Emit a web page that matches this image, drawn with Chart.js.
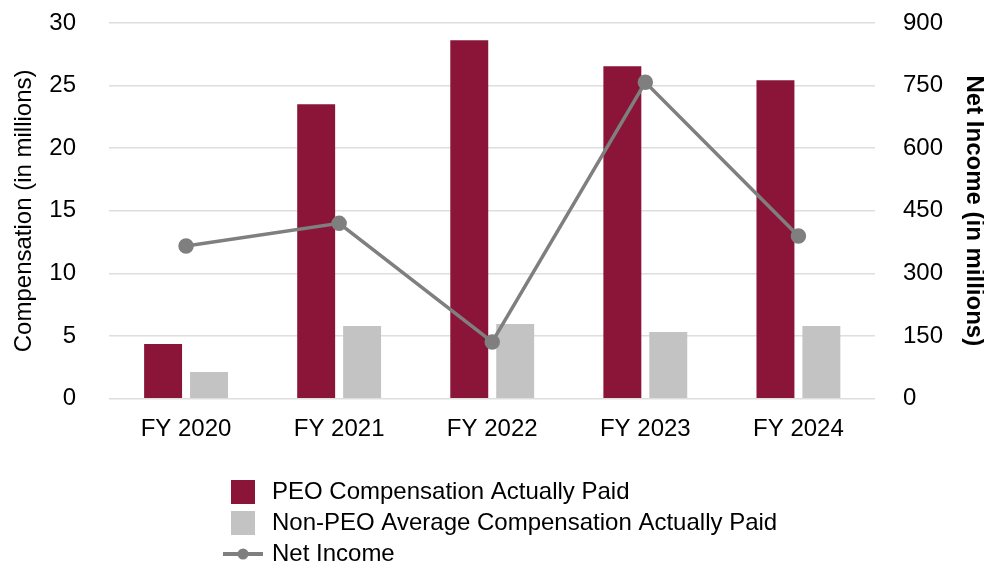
<!DOCTYPE html>
<html>
<head>
<meta charset="utf-8">
<script src="https://cdn.jsdelivr.net/npm/chart.js@4.4.1/dist/chart.umd.min.js"></script>
<style>
  body { margin: 0; background: #fff; }
  canvas { display: block; }
</style>
</head>
<body>
<canvas id="payChart" width="984" height="561"></canvas>
<script>
"use strict";

// Data for the pay versus performance chart.
const categories = ["FY 2020", "FY 2021", "FY 2022", "FY 2023", "FY 2024"];
const seriesNames = [
    "PEO Compensation Actually Paid",
    "Non-PEO Average Compensation Actually Paid",
    "Net Income"
];
const peoComp = [4.37, 23.52, 28.63, 26.55, 25.43];
const nonPeoComp = [2.13, 5.80, 5.96, 5.32, 5.80];
const netIncome = [366, 420, 136, 758, 390];
const compTicks = [0, 5, 10, 15, 20, 25, 30];
const incomeTicks = [0, 150, 300, 450, 600, 750, 900];

const tickFont = { family: "'Liberation Sans', Arial, sans-serif", size: 24 };

// Legend stacked under the chart, one entry per line.
const stackedLegend = {
    id: "stackedLegend",
    afterDraw(chart) {
        const ctx = chart.ctx;
        ctx.save();
        ctx.font = "24px 'Liberation Sans', Arial, sans-serif";
        ctx.textBaseline = "middle";
        chart.data.datasets.forEach((ds, i) => {
            const y = 492 + i * 31;
            if (ds.type === "line") {
                ctx.strokeStyle = ds.borderColor;
                ctx.lineWidth = 4;
                ctx.beginPath();
                ctx.moveTo(223, y);
                ctx.lineTo(263, y);
                ctx.stroke();
                ctx.fillStyle = ds.borderColor;
                ctx.beginPath();
                ctx.arc(243, y, 5.5, 0, Math.PI * 2);
                ctx.fill();
            } else {
                ctx.fillStyle = ds.backgroundColor;
                ctx.fillRect(231, y - 12, 24, 24);
            }
            ctx.fillStyle = "#000";
            ctx.fillText(ds.label, 272, y);
        });
        ctx.restore();
    }
};

// Invisible tick marks keep the gap between labels and plot area.
const hiddenTicks = len => ({ drawTicks: true, tickLength: len, tickColor: "rgba(0,0,0,0)" });

const ctx = document.getElementById("payChart");

new Chart(ctx, {
    type: "bar",
    data: {
        labels: categories,
        datasets: [
            {
                label: seriesNames[0],
                data: peoComp,
                backgroundColor: "#8A1538",
                yAxisID: "y",
                order: 1,
                categoryPercentage: 0.6,
                barPercentage: 0.826
            },
            {
                label: seriesNames[1],
                data: nonPeoComp,
                backgroundColor: "#C3C3C3",
                yAxisID: "y",
                order: 1,
                categoryPercentage: 0.6,
                barPercentage: 0.826
            },
            {
                type: "line",
                label: seriesNames[2],
                data: netIncome,
                borderColor: "#7F7F7F",
                backgroundColor: "#7F7F7F",
                borderWidth: 3.5,
                pointRadius: 6,
                pointHoverRadius: 6,
                yAxisID: "y1",
                order: 0
            }
        ]
    },
    options: {
        responsive: false,
        animation: false,
        layout: { padding: { top: 23, bottom: 117.5, left: 0, right: 0 } },
        plugins: {
            legend: { display: false },
            tooltip: { enabled: false }
        },
        scales: {
            x: {
                grid: Object.assign({ display: true, drawOnChartArea: false }, hiddenTicks(16)),
                border: { display: false },
                ticks: { color: "#000", font: tickFont, padding: 0 }
            },
            y: {
                position: "left",
                min: 0,
                max: 30,
                afterBuildTicks: scale => { scale.ticks = compTicks.map(v => ({ value: v })); },
                grid: Object.assign({ color: "#dedede", lineWidth: 1.5 }, hiddenTicks(33.5)),
                border: { display: false },
                ticks: { color: "#000", font: tickFont, padding: 0 },
                title: {
                    display: true,
                    text: "Compensation (in millions)",
                    color: "#000",
                    font: { family: tickFont.family, size: 24, lineHeight: "20px" },
                    padding: { top: 14, bottom: 15.3 }
                }
            },
            y1: {
                position: "right",
                min: 0,
                max: 900,
                afterBuildTicks: scale => { scale.ticks = incomeTicks.map(v => ({ value: v })); },
                grid: Object.assign({ display: true, drawOnChartArea: false }, hiddenTicks(28)),
                border: { display: false },
                ticks: { color: "#000", font: tickFont, padding: 0 },
                title: {
                    display: true,
                    text: "Net Income (in millions)",
                    color: "#000",
                    font: { family: tickFont.family, size: 24, weight: "bold", lineHeight: "20px" },
                    padding: { top: 0, bottom: 21 }
                }
            }
        }
    },
    plugins: [stackedLegend]
});
</script>
</body>
</html>
